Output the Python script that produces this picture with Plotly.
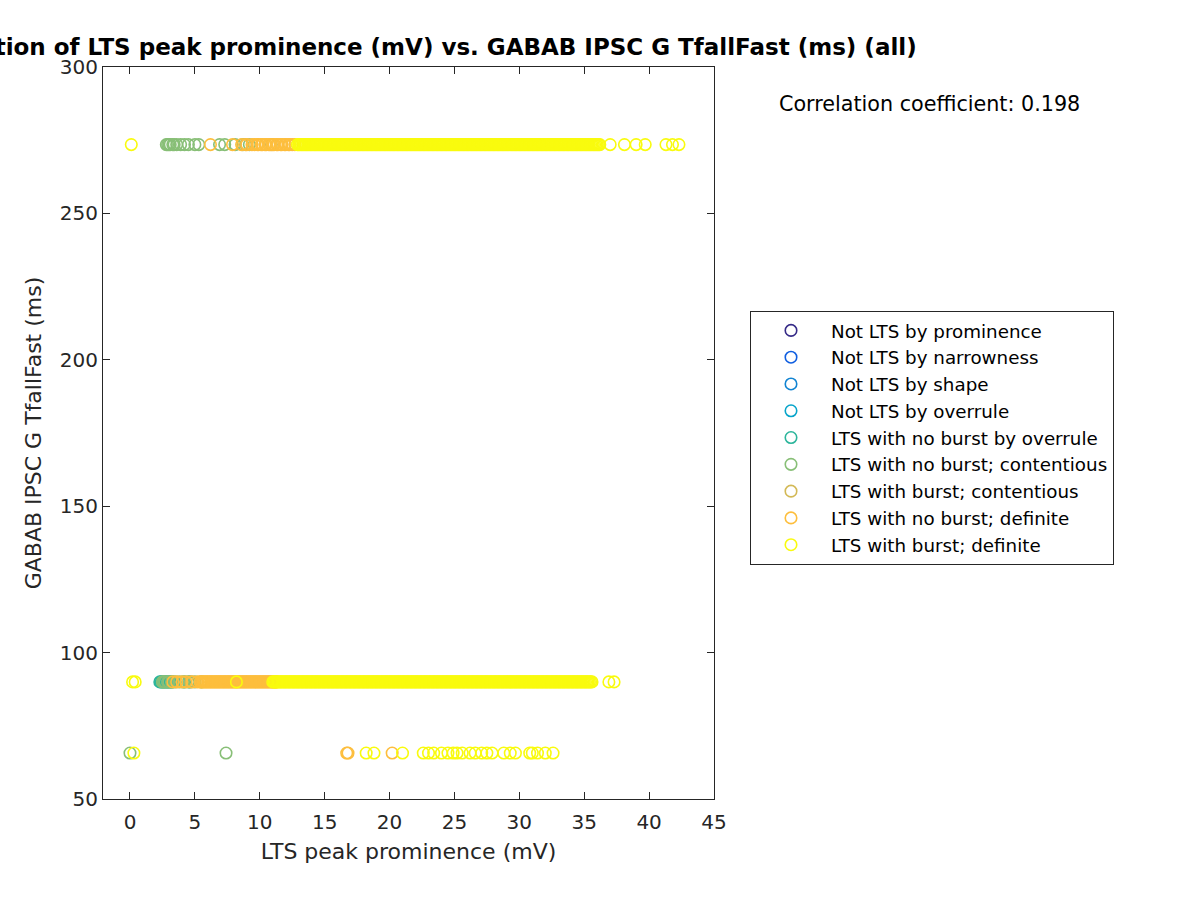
import plotly.graph_objects as go

# ---------------- data ----------------
categories = [
    "Not LTS by prominence",
    "Not LTS by narrowness",
    "Not LTS by shape",
    "Not LTS by overrule",
    "LTS with no burst by overrule",
    "LTS with no burst; contentious",
    "LTS with burst; contentious",
    "LTS with no burst; definite",
    "LTS with burst; definite",
]
colors = ["#352A87", "#0F5EE0", "#1284D2", "#06A4CA", "#2CB59B",
          "#88BF77", "#D3B956", "#FDBE3D", "#F9FB0E"]

y_levels = [273.5, 90.0, 65.7]

# x values (LTS peak prominence, mV) per category per y level
# (the "Not LTS" categories have no prominence value -> NaN)
teal_x = {90.0: [2.3, 2.4, 2.5, 2.6, 2.7, 2.8, 2.9, 3.0, 3.1, 3.2, 3.3,
                 4.2, 4.6]}

green_x = {
    273.5: [2.8, 2.9, 3.0, 3.1, 3.3, 3.4, 3.6, 3.9, 4.2, 4.5, 5.0, 5.3,
            6.9, 7.3, 8.1, 8.7, 9.2],
    90.0: [2.5, 2.6, 2.7, 2.9, 3.0, 3.2, 3.5, 3.8, 4.1, 4.5, 5.0, 5.5],
    65.7: [0.0, 7.4],
}

tan_x = {273.5: [8.9, 10.9], 90.0: [4.7]}

orange_x = {
    273.5: [6.2, 7.9, 8.6, 9.0, 9.4, 9.6, 9.8, 9.9, 10.1, 10.2, 10.4, 10.5,
            10.7, 10.8, 11.0, 11.1, 11.3, 11.4, 11.6, 11.7, 11.9, 12.0, 12.2,
            12.3, 12.5, 12.7],
    90.0: [3.3, 3.6, 4.0, 4.3, 4.8, 5.2,
           5.4, 5.5, 5.6, 5.7, 5.8, 5.9, 6.0, 6.1, 6.2, 6.3, 6.4, 6.5, 6.6,
           6.7, 6.8, 6.9, 7.0, 7.1, 7.2, 7.3, 7.4, 7.5, 7.6, 7.7, 7.8, 7.9,
           8.0, 8.1, 8.2, 8.3, 8.4, 8.5, 8.6, 8.7, 8.8, 8.9, 9.0, 9.1, 9.2,
           9.3, 9.4, 9.5, 9.6, 9.7, 9.8, 9.9, 10.0, 10.1, 10.2, 10.3, 10.4,
           10.5, 10.6, 10.7, 10.8, 10.9, 11.0, 11.1, 11.2, 11.3],
    65.7: [16.7, 16.8, 20.2],
}

yellow_x = {
    273.5: [0.1,
            12.9, 13.0, 13.1, 13.2, 13.3, 13.4, 13.5, 13.6, 13.7, 13.8, 13.9,
            14.0, 14.1, 14.2, 14.3, 14.4, 14.5, 14.6, 14.7, 14.8, 14.9,
            15.0, 15.1, 15.2, 15.3, 15.4, 15.5, 15.6, 15.7, 15.8, 15.9,
            16.0, 16.1, 16.2, 16.3, 16.4, 16.5, 16.6, 16.7, 16.8, 16.9,
            17.0, 17.1, 17.2, 17.3, 17.4, 17.5, 17.6, 17.7, 17.8, 17.9,
            18.0, 18.1, 18.2, 18.3, 18.4, 18.5, 18.6, 18.7, 18.8, 18.9,
            19.0, 19.1, 19.2, 19.3, 19.4, 19.5, 19.6, 19.7, 19.8, 19.9,
            20.0, 20.1, 20.2, 20.3, 20.4, 20.5, 20.6, 20.7, 20.8, 20.9,
            21.0, 21.1, 21.2, 21.3, 21.4, 21.5, 21.6, 21.7, 21.8, 21.9,
            22.0, 22.1, 22.2, 22.3, 22.4, 22.5, 22.6, 22.7, 22.8, 22.9,
            23.0, 23.1, 23.2, 23.3, 23.4, 23.5, 23.6, 23.7, 23.8, 23.9,
            24.0, 24.1, 24.2, 24.3, 24.4, 24.5, 24.6, 24.7, 24.8, 24.9,
            25.0, 25.1, 25.2, 25.3, 25.4, 25.5, 25.6, 25.7, 25.8, 25.9,
            26.0, 26.1, 26.2, 26.3, 26.4, 26.5, 26.6, 26.7, 26.8, 26.9,
            27.0, 27.1, 27.2, 27.3, 27.4, 27.5, 27.6, 27.7, 27.8, 27.9,
            28.0, 28.1, 28.2, 28.3, 28.4, 28.5, 28.6, 28.7, 28.8, 28.9,
            29.0, 29.1, 29.2, 29.3, 29.4, 29.5, 29.6, 29.7, 29.8, 29.9,
            30.0, 30.1, 30.2, 30.3, 30.4, 30.5, 30.6, 30.7, 30.8, 30.9,
            31.0, 31.1, 31.2, 31.3, 31.4, 31.5, 31.6, 31.7, 31.8, 31.9,
            32.0, 32.1, 32.2, 32.3, 32.4, 32.5, 32.6, 32.7, 32.8, 32.9,
            33.0, 33.1, 33.2, 33.3, 33.4, 33.5, 33.6, 33.7, 33.8, 33.9,
            34.0, 34.1, 34.2, 34.3, 34.4, 34.5, 34.6, 34.7, 34.8, 34.9,
            35.0, 35.1, 35.2, 35.3, 35.4, 35.5, 35.6, 35.7, 35.8, 35.9,
            36.0, 36.1, 36.2,
            37.0, 38.1, 39.0, 39.7, 41.3, 41.8, 42.3],
    90.0: [0.2, 0.4, 8.2,
           11.0, 11.1, 11.2, 11.3, 11.4, 11.5, 11.6, 11.7, 11.8, 11.9,
           12.0, 12.1, 12.2, 12.3, 12.4, 12.5, 12.6, 12.7, 12.8, 12.9,
           13.0, 13.1, 13.2, 13.3, 13.4, 13.5, 13.6, 13.7, 13.8, 13.9,
           14.0, 14.1, 14.2, 14.3, 14.4, 14.5, 14.6, 14.7, 14.8, 14.9,
           15.0, 15.1, 15.2, 15.3, 15.4, 15.5, 15.6, 15.7, 15.8, 15.9,
           16.0, 16.1, 16.2, 16.3, 16.4, 16.5, 16.6, 16.7, 16.8, 16.9,
           17.0, 17.1, 17.2, 17.3, 17.4, 17.5, 17.6, 17.7, 17.8, 17.9,
           18.0, 18.1, 18.2, 18.3, 18.4, 18.5, 18.6, 18.7, 18.8, 18.9,
           19.0, 19.1, 19.2, 19.3, 19.4, 19.5, 19.6, 19.7, 19.8, 19.9,
           20.0, 20.1, 20.2, 20.3, 20.4, 20.5, 20.6, 20.7, 20.8, 20.9,
           21.0, 21.1, 21.2, 21.3, 21.4, 21.5, 21.6, 21.7, 21.8, 21.9,
           22.0, 22.1, 22.2, 22.3, 22.4, 22.5, 22.6, 22.7, 22.8, 22.9,
           23.0, 23.1, 23.2, 23.3, 23.4, 23.5, 23.6, 23.7, 23.8, 23.9,
           24.0, 24.1, 24.2, 24.3, 24.4, 24.5, 24.6, 24.7, 24.8, 24.9,
           25.0, 25.1, 25.2, 25.3, 25.4, 25.5, 25.6, 25.7, 25.8, 25.9,
           26.0, 26.1, 26.2, 26.3, 26.4, 26.5, 26.6, 26.7, 26.8, 26.9,
           27.0, 27.1, 27.2, 27.3, 27.4, 27.5, 27.6, 27.7, 27.8, 27.9,
           28.0, 28.1, 28.2, 28.3, 28.4, 28.5, 28.6, 28.7, 28.8, 28.9,
           29.0, 29.1, 29.2, 29.3, 29.4, 29.5, 29.6, 29.7, 29.8, 29.9,
           30.0, 30.1, 30.2, 30.3, 30.4, 30.5, 30.6, 30.7, 30.8, 30.9,
           31.0, 31.1, 31.2, 31.3, 31.4, 31.5, 31.6, 31.7, 31.8, 31.9,
           32.0, 32.1, 32.2, 32.3, 32.4, 32.5, 32.6, 32.7, 32.8, 32.9,
           33.0, 33.1, 33.2, 33.3, 33.4, 33.5, 33.6, 33.7, 33.8, 33.9,
           34.0, 34.1, 34.2, 34.3, 34.4, 34.5, 34.6, 34.7, 34.8, 34.9,
           35.0, 35.1, 35.2, 35.3, 35.4, 35.5, 35.6,
           36.9, 37.3],
    65.7: [0.3, 18.2, 18.8, 21.0, 22.6, 23.0, 23.4, 24.0, 24.5, 24.9, 25.2,
           25.6, 26.2, 26.6, 27.1, 27.5, 27.9, 28.8, 29.3, 29.7, 30.8, 31.0,
           31.4, 32.0, 32.6],
}

cat_points = [{}, {}, {}, {}, teal_x, green_x, tan_x, orange_x, yellow_x]

x_ticks = [0, 5, 10, 15, 20, 25, 30, 35, 40, 45]
y_ticks = [50, 100, 150, 200, 250, 300]

title_text = "Correlation of LTS peak prominence (mV) vs. GABAB IPSC G TfallFast (ms) (all)"
corr_text = "Correlation coefficient: 0.198"

# ---------------- figure ----------------
FONT = "DejaVu Sans"
AX = "#262626"

fig = go.Figure()
for i, (name, col, pts) in enumerate(zip(categories, colors, cat_points)):
    xs, ys = [], []
    for yl in y_levels:
        for xv in pts.get(yl, []):
            xs.append(xv)
            ys.append(yl)
    if not xs:  # category with only NaN values: keep it in the legend
        xs, ys = [None], [None]
    fig.add_trace(go.Scatter(
        x=xs, y=ys, mode="markers", name=name,
        legendgroup=f"g{i}",
        marker=dict(symbol="circle-open", size=11.5, color=col,
                    line=dict(width=1.6, color=col)),
    ))

fig.update_layout(
    width=1200, height=900, autosize=False,
    paper_bgcolor="white", plot_bgcolor="white",
    margin=dict(l=103, r=486, t=67, b=101),
    font=dict(family=FONT, color=AX, size=20),
    title=dict(text="<b>" + title_text + "</b>", x=0.5, xref="paper",
               xanchor="center", y=1 - 47 / 900, yref="container",
               yanchor="middle", font=dict(family=FONT, size=23, color="black")),
    showlegend=True,
    legend=dict(x=(750 - 103) / 611, y=(799 - 311) / 732, xref="paper",
                yref="paper", xanchor="left", yanchor="top",
                bordercolor=AX, borderwidth=1, bgcolor="white",
                font=dict(family=FONT, size=18.3, color="black"),
                itemwidth=70, tracegroupgap=0, entrywidth=296),
    annotations=[dict(text=corr_text, x=(777 - 103) / 611, y=(799 - 104) / 732,
                      xref="paper", yref="paper", xanchor="left",
                      yanchor="middle", showarrow=False,
                      font=dict(family=FONT, size=20.7, color="black"))],
)

fig.update_xaxes(range=[-2.08, 45], tickvals=x_ticks, ticks="inside", ticklen=7,
                 tickcolor=AX, showline=True, linecolor=AX, linewidth=1,
                 mirror="ticks", showgrid=False, zeroline=False,
                 ticklabelstandoff=5,
                 title=dict(text="LTS peak prominence (mV)",
                            font=dict(size=22, color=AX), standoff=10),
                 tickfont=dict(size=20, color=AX))
fig.update_yaxes(range=[50, 300], tickvals=y_ticks, ticks="inside", ticklen=7,
                 tickcolor=AX, showline=True, linecolor=AX, linewidth=1,
                 mirror="ticks", showgrid=False, zeroline=False,
                 title=dict(text="GABAB IPSC G TfallFast (ms)",
                            font=dict(size=22, color=AX), standoff=12),
                 tickfont=dict(size=20, color=AX))

fig.write_html("out.html")
